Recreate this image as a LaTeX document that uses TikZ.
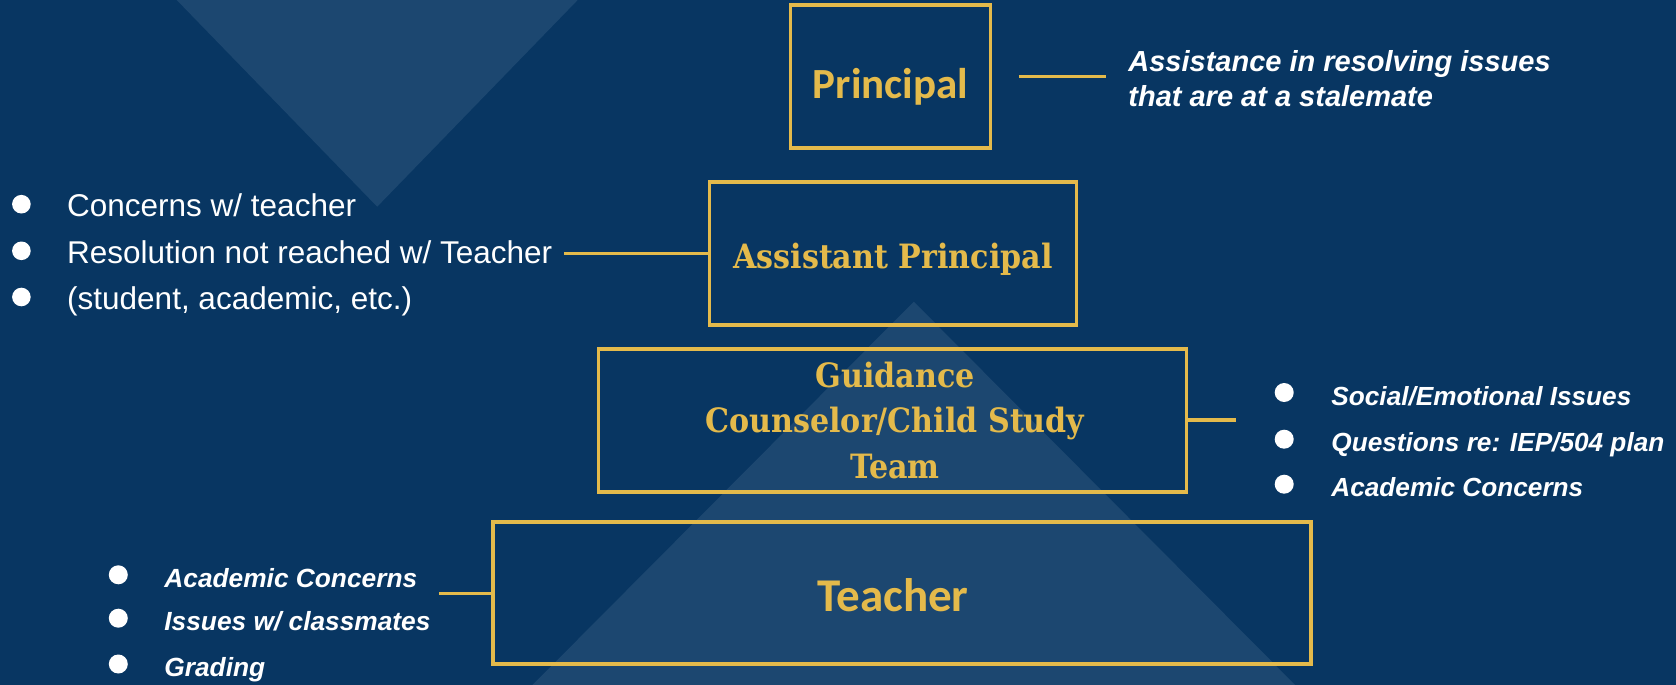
\documentclass[tikz,border=0pt]{standalone}
\usepackage{fontspec}
\setmainfont{Liberation Sans}
\newfontfamily\calib{Carlito}
\newfontfamily\slab{DejaVu Serif Condensed}
\definecolor{bgnavy}{HTML}{083662}
\definecolor{trifill}{HTML}{1C4770}
\definecolor{gold}{HTML}{E4BA4B}
\tikzset{
  lvlbox/.style={draw=gold, line width=3.5pt, inner sep=0pt},
  goldline/.style={draw=gold, line width=3.5pt},
  bul/.style={fill=white},
  whitetxt/.style={text=white, anchor=base west, inner sep=0pt},
  goldtxt/.style={text=gold, inner sep=0pt},
}
\begin{document}
\begin{tikzpicture}[x=1pt,y=-1pt]
\fill[bgnavy] (0,0) rectangle (1676,685);
\useasboundingbox (0,0) rectangle (1676,685);
\begin{scope}
\clip (0,0) rectangle (1676,685);
\fill[trifill] (147.6,-30) -- (606.8,-30) -- (377.2,206.7) -- cycle;
\fill[trifill] (913.8,301.7) -- (1320,710) -- (507.6,710) -- cycle;
\end{scope}
% boxes
\node[lvlbox, minimum width=200pt, minimum height=143pt] (prin) at (890.5,76.5) {};
\node[goldtxt, anchor=base, font=\calib\bfseries\fontsize{43}{45}\selectfont] at (890.5,99) {Principal};
\node[lvlbox, minimum width=367pt, minimum height=143pt] (asst) at (893,253.3) {};
\node[goldtxt, anchor=base, font=\slab\bfseries\fontsize{33.5}{36}\selectfont] at (893,268.3) {Assistant Principal};
\node[lvlbox, minimum width=588pt, minimum height=143pt] (guid) at (892.5,420.3) {};
\node[goldtxt, align=center, font=\slab\bfseries\fontsize{33.5}{45.5}\selectfont] at (895,420.5) {Guidance\\Counselor/Child Study\\Team};
\node[lvlbox, minimum width=818pt, minimum height=142pt] (teach) at (901.8,593.2) {};
\node[goldtxt, anchor=base, font=\calib\bfseries\fontsize{47}{49}\selectfont] at (893,611.7) {Teacher};
% principal note
\coordinate (pl2) at (1105.8,76.7);
\draw[goldline] (prin.east |- pl2) ++(26.7,0) coordinate (pl1) -- (pl2);
\node[whitetxt, align=left, font=\bfseries\itshape\fontsize{29}{35}\selectfont] (pnote) at (1128.2,106.7) {Assistance in resolving issues\\that are at a stalemate};
% left bullets (assistant principal)
\foreach \yy/\tt [count=\i] in {216.7/{Concerns w/ teacher},263.3/{Resolution not reached w/ Teacher},309.5/{(student, academic, etc.)}}{
  \fill[bul] (21.4,\yy-12.5) circle (9.3pt);
  \node[whitetxt, font=\fontsize{31.5}{33}\selectfont] (la\i) at (67,\yy) {\tt};
}
\draw[goldline] (la2.east |- asst.west) ++(12,0) coordinate (al1) -- (asst.west);
% right bullets (guidance)
\foreach \yy/\tt [count=\i] in {405/{Social/Emotional Issues},451.7/{Questions re: IEP/504 plan},496.7/{Academic Concerns}}{
  \fill[bul] (1284.2,\yy-12.5) circle (9.5pt);
  \node[whitetxt, font=\bfseries\itshape\fontsize{26.2}{28}\selectfont] (rg\i) at (1331.2,\yy) {\tt};
}
\coordinate (gl2) at (1235.5,420);
\draw[goldline] (guid.east |- gl2) -- (gl2);
% bottom-left bullets (teacher)
\foreach \yy/\tt [count=\i] in {587.3/{Academic Concerns},630.7/{Issues w/ classmates},676.5/{Grading}}{
  \fill[bul] (118.3,\yy-12.5) circle (9.5pt);
  \node[whitetxt, font=\bfseries\itshape\fontsize{26.3}{28}\selectfont] (lt\i) at (164.2,\yy) {\tt};
}
\coordinate (tl1) at (439,593.3);
\draw[goldline] (tl1) -- (teach.west |- tl1);
\end{tikzpicture}
\end{document}
